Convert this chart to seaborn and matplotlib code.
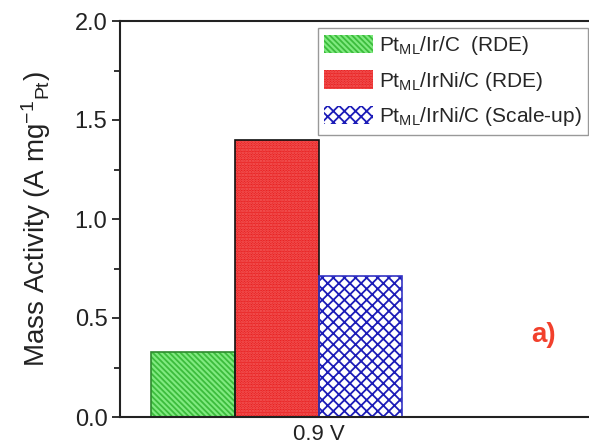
import matplotlib
matplotlib.use("Agg")
import matplotlib.pyplot as plt
from matplotlib.patches import Rectangle
import seaborn as sns
import pandas as pd

# ---- data ----
categories = ["0.9 V"]
series = ["Pt$_{ML}$/Ir/C  (RDE)", "Pt$_{ML}$/IrNi/C (RDE)", "Pt$_{ML}$/IrNi/C (Scale-up)"]
values = [0.33, 1.40, 0.71]
y_ticks = [0.0, 0.5, 1.0, 1.5, 2.0]

fill_colors = ["#80ea80", "#e82020", "#ffffff"]
hatch_colors = ["#3cbc3c", "#f46060", "#1c1cb8"]
edge_colors = ["#2f8a2f", "#111111", "#3434c4"]
hatches = ["\\" * 6, "......", "xxx"]

df = pd.DataFrame({"potential": categories * len(series),
                   "catalyst": series,
                   "activity": values})

sns.set_style("ticks")
plt.rcParams["font.family"] = ["Liberation Sans", "DejaVu Sans"]
plt.rcParams["mathtext.fontset"] = "custom"
plt.rcParams["mathtext.rm"] = "Liberation Sans"
plt.rcParams["mathtext.it"] = "Liberation Sans"
plt.rcParams["mathtext.default"] = "regular"
plt.rcParams["hatch.linewidth"] = 1.3

fig = plt.figure(figsize=(5.89, 4.46), dpi=100)
ax = fig.add_axes([120 / 589, 29 / 446, 480 / 589, 396 / 446])

sns.barplot(data=df, x="potential", y="activity", hue="catalyst",
            hue_order=series, palette=fill_colors, saturation=1,
            width=0.8, legend=False, ax=ax)

handles = []
for i, cont in enumerate(ax.containers):
    for p in cont:
        p.set_facecolor(fill_colors[i])
        p.set_edgecolor(hatch_colors[i])
        p.set_hatch(hatches[i])
        p.set_linewidth(0.0)
        ax.add_patch(Rectangle((p.get_x(), p.get_y()), p.get_width(), p.get_height(),
                               fill=False, edgecolor=edge_colors[i], linewidth=1.2,
                               zorder=p.get_zorder() + 0.1))
    handles.append(Rectangle((0, 0), 1, 1, facecolor=fill_colors[i],
                             edgecolor=hatch_colors[i], hatch=hatches[i], linewidth=0.0))

ax.set_ylim(0, 2.0)
ax.set_xlim(-0.5, 1.03)
ax.set_yticks(y_ticks)
ax.set_yticklabels([f"{v:.1f}" for v in y_ticks])
ax.set_yticks([0.25, 0.75, 1.25, 1.75], minor=True)

red = ax.containers[1][0]
ax.set_xticks([red.get_x() + red.get_width()])
ax.set_xticklabels(categories)
ax.set_xlabel("")
ax.set_ylabel("Mass Activity (A mg$^{-1}$$_{Pt}$)", fontsize=20, labelpad=16, color="#222222")

ax.tick_params(axis="y", which="major", direction="out", length=6, width=1.3, labelsize=17, colors="#222222", pad=3)
ax.tick_params(axis="y", which="minor", direction="out", length=4, width=1.3, colors="#222222")
ax.tick_params(axis="x", which="major", length=0, labelsize=16, colors="#222222", pad=5)
for s in ax.spines.values():
    s.set_linewidth(1.5)
    s.set_color("#222222")

ax.text(0.883, 0.207, "a)", transform=ax.transAxes, color="#f2402c",
        fontsize=20, fontweight="bold", ha="center", va="center")

leg = ax.legend(handles=handles, labels=series, loc="upper right",
                bbox_to_anchor=(588 / 589, 1 - 28 / 446), bbox_transform=fig.transFigure,
                borderaxespad=0, fontsize=15, frameon=True, fancybox=False,
                framealpha=1, edgecolor="#999999", handlelength=2.35, handleheight=1.0,
                handletextpad=0.3, labelspacing=0.6, borderpad=0.3)
leg.get_frame().set_linewidth(1.0)

fig.savefig("out.png", dpi=100)
